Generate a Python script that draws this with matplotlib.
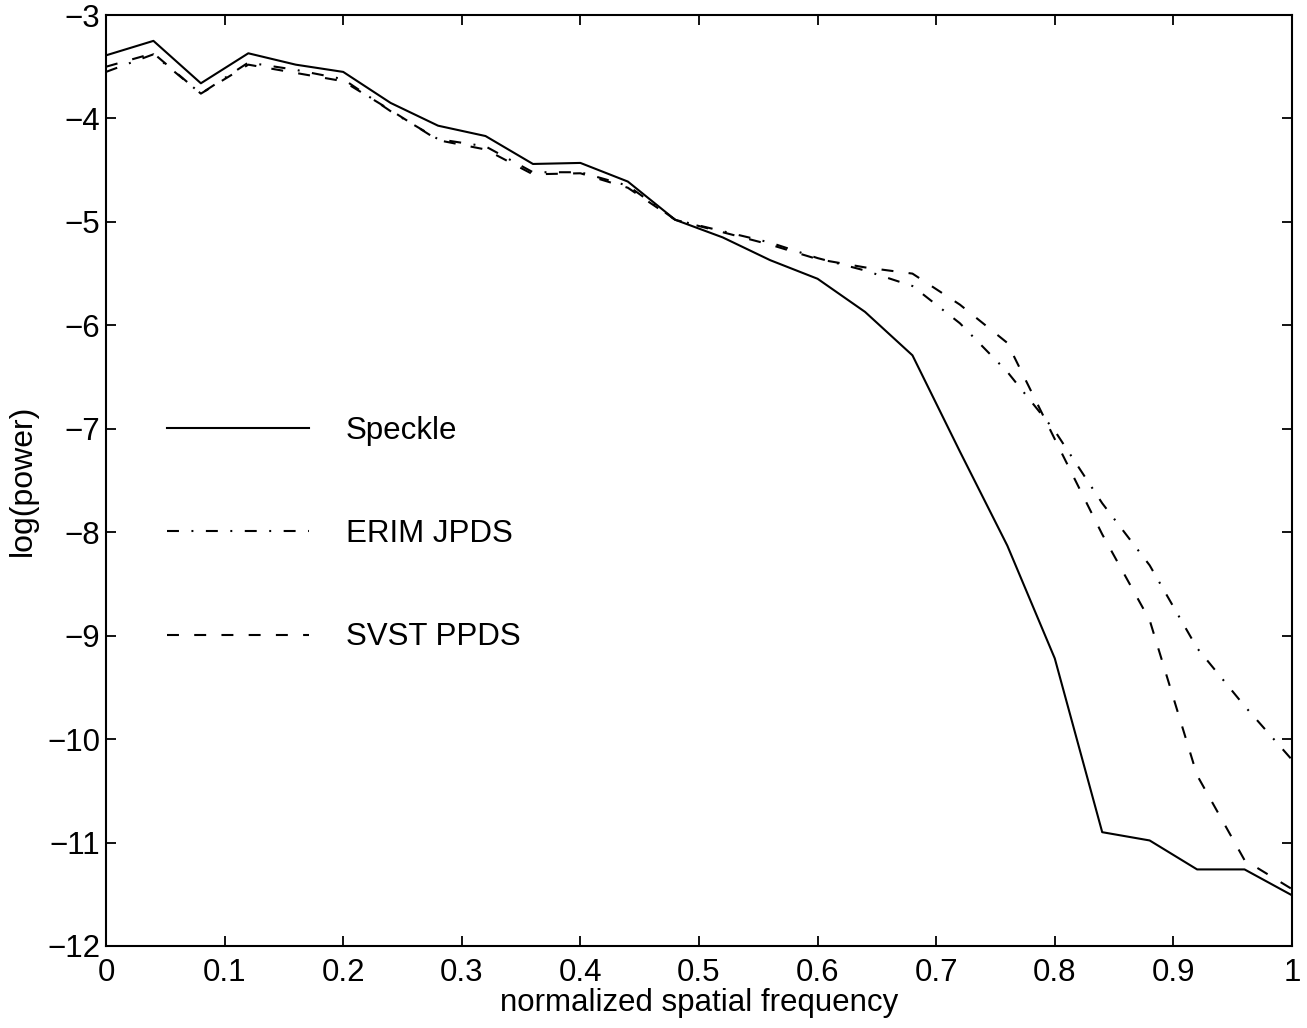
import numpy as np
import matplotlib
matplotlib.use("Agg")
import matplotlib.pyplot as plt

plt.rcParams['font.family'] = ['Liberation Sans', 'DejaVu Sans']
plt.rcParams['lines.scale_dashes'] = False

freq = np.round(np.arange(26) * 0.04, 2)
speckle = [-3.39, -3.25, -3.66, -3.37, -3.48, -3.55, -3.85, -4.07, -4.17, -4.44,
           -4.43, -4.61, -4.98, -5.15, -5.37, -5.55, -5.87, -6.29, -7.22, -8.13,
           -9.22, -10.90, -10.98, -11.26, -11.26, -11.51]
erim_jpds = [-3.55, -3.38, -3.76, -3.46, -3.53, -3.62, -3.93, -4.20, -4.27, -4.52,
             -4.52, -4.65, -4.98, -5.09, -5.20, -5.35, -5.47, -5.62, -5.98, -6.45,
             -7.02, -7.72, -8.32, -9.12, -9.68, -10.20]
svst_ppds = [-3.50, -3.37, -3.76, -3.48, -3.56, -3.64, -3.92, -4.21, -4.30, -4.54,
             -4.53, -4.67, -4.98, -5.10, -5.22, -5.36, -5.44, -5.50, -5.80, -6.17,
             -7.10, -8.02, -8.85, -10.35, -11.17, -11.45]
series_labels = ['Speckle', 'ERIM JPDS', 'SVST PPDS']
xticks = [0, 0.1, 0.2, 0.3, 0.4, 0.5, 0.6, 0.7, 0.8, 0.9, 1]
xtick_labels = ['0', '0.1', '0.2', '0.3', '0.4', '0.5', '0.6', '0.7', '0.8', '0.9', '1']
yticks = [-3, -4, -5, -6, -7, -8, -9, -10, -11, -12]

fig = plt.figure(figsize=(13.07, 10.28), dpi=100)
ax = fig.add_axes([0.0811, 0.0798, 0.9074, 0.9056])

fs = 22.5
lw = 1.5
ax.plot(freq, speckle, color='black', lw=lw, linestyle='-', label=series_labels[0])
ax.plot(freq, erim_jpds, color='black', lw=lw, dashes=(8.6, 9, 1.4, 9), label=series_labels[1])
ax.plot(freq, svst_ppds, color='black', lw=lw, dashes=(8.6, 11), label=series_labels[2])

ax.set_xlim(0, 1)
ax.set_ylim(-12, -3)
ax.set_xticks(xticks)
ax.set_xticklabels(xtick_labels)
ax.set_yticks(yticks)
ax.set_yticklabels([str(v).replace('-', '\u2212') for v in yticks])

ax.tick_params(direction='in', length=7, width=1.3, top=True, right=True,
               labelsize=fs)
ax.tick_params(axis='x', pad=9)
ax.tick_params(axis='y', pad=4)
for s in ax.spines.values():
    s.set_linewidth(1.5)

ax.set_xlabel('normalized spatial frequency', fontsize=fs, labelpad=0)
ax.set_ylabel('log(power)', fontsize=23, labelpad=7)

ax.legend(loc='center left', bbox_to_anchor=(0.0514, 0.4425), frameon=False,
          fontsize=fs, handlelength=4.54, handletextpad=1.18, labelspacing=2.35,
          borderpad=0, borderaxespad=0)

fig.savefig('out.png', dpi=100)
